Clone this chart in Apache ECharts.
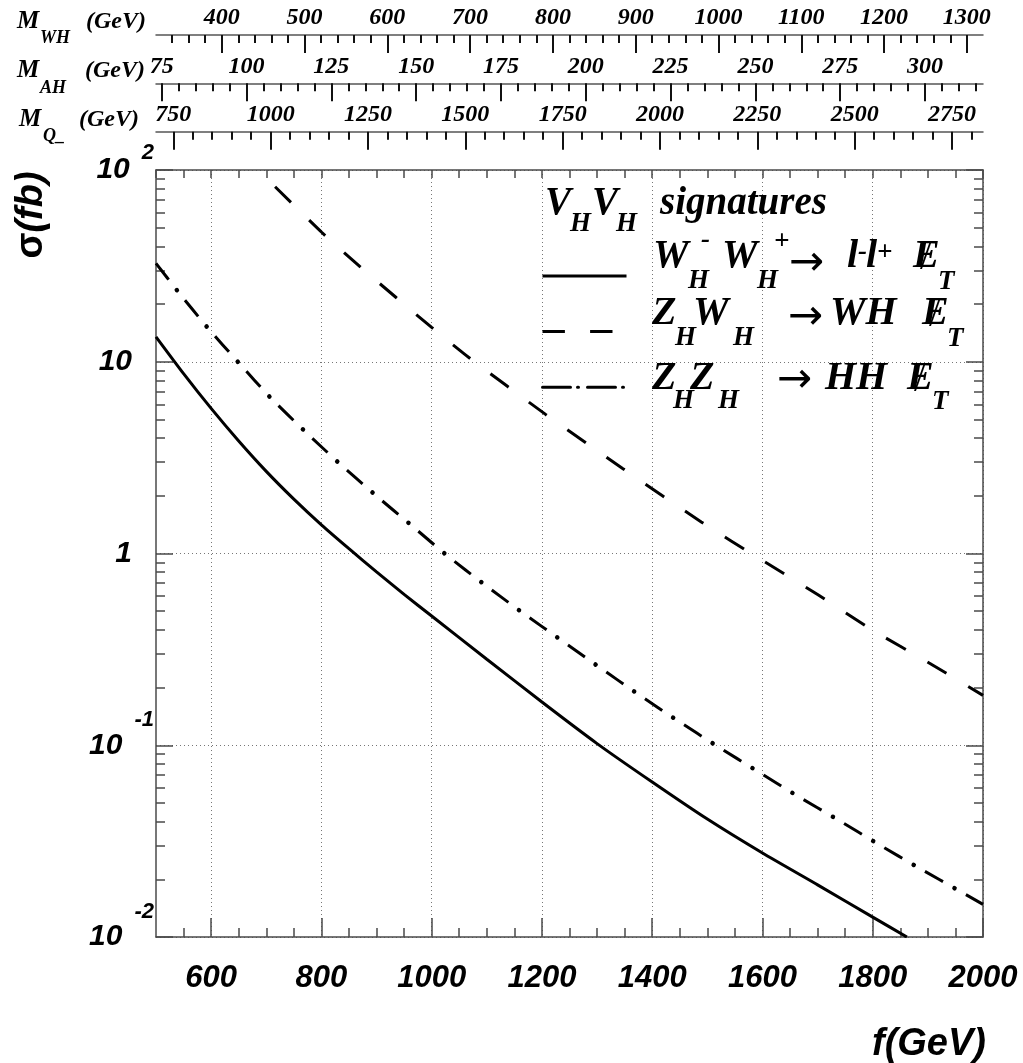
<!DOCTYPE html>
<html>
<head>
<meta charset="utf-8">
<title>V_H V_H signatures</title>
<script src="https://cdn.jsdelivr.net/npm/echarts@6/dist/echarts.min.js"></script>
<style>
  html, body { margin: 0; padding: 0; background: #fff; }
  #chart { width: 1023px; height: 1063px; }
</style>
</head>
<body>
<div id="chart"></div>
<script>
// ---- cross sections (fb) versus the symmetry breaking scale f (GeV) ----
const fWW = [500, 550, 600, 650, 700, 750, 800, 850, 900, 950, 1000, 1100, 1200, 1300, 1400, 1500, 1600, 1700, 1800, 1862];
const sigmaWW = [13.49, 8.67, 5.71, 3.86, 2.68, 1.92, 1.41, 1.059, 0.802, 0.612, 0.472, 0.281, 0.168, 0.102, 0.0643, 0.0412, 0.0274, 0.0187, 0.0127, 0.0100];

const fZW = [716, 801, 870, 935, 1000, 1068, 1206, 1347, 1489, 1599, 1700, 1800, 1900, 2000];
const sigmaZW = [81.8, 47.2, 31.3, 21.7, 15.1, 10.5, 5.33, 2.77, 1.46, 0.924, 0.611, 0.398, 0.271, 0.182];

const fZZ = [500, 539, 594, 650, 708, 769, 832, 896, 961, 1027, 1095, 1164, 1234, 1304, 1374, 1445, 1517, 1590, 1662, 1736, 1810, 1884, 1959, 2000];
const sigmaZZ = [32.6, 23.4, 15.0, 9.88, 6.48, 4.37, 2.96, 2.04, 1.42, 0.981, 0.692, 0.493, 0.355, 0.2555, 0.185, 0.135, 0.0993, 0.0735, 0.0547, 0.041, 0.0305, 0.0229, 0.01726, 0.0148];

// ---- axis ranges and tick labels ----
const fRange = [500, 2000];
const fMajorTicks = [600, 800, 1000, 1200, 1400, 1600, 1800, 2000];
const sigmaRange = [0.01, 100];

const mWHRange = [320.6, 1319.5];
const mWHMajorTicks = [400, 500, 600, 700, 800, 900, 1000, 1100, 1200, 1300];
const mAHRange = [73.3, 317.1];
const mAHMajorTicks = [75, 100, 125, 150, 175, 200, 225, 250, 275, 300];
const mQRange = [705.6, 2829.6];
const mQMajorTicks = [750, 1000, 1250, 1500, 1750, 2000, 2250, 2500, 2750];

// minor tick positions between the labelled ones
function minorSteps(from, to, step, major) {
  const out = [];
  for (let v = from; v <= to + 1e-9; v += step) {
    const r = Math.round(v * 1000) / 1000;
    if (Math.abs(r / major - Math.round(r / major)) > 1e-9) out.push(r);
  }
  return out;
}
const fMinorTicks = minorSteps(550, 1950, 50, 200);
const mWHMinorTicks = minorSteps(340, 1300, 20, 100);
const mAHMinorTicks = minorSteps(80, 315, 5, 25);
const mQMinorTicks = minorSteps(800, 2800, 50, 250);

// log-axis sub-decade ticks, expressed as log10(sigma)
const sigmaMinorLog = [];
for (let d = -2; d <= 1; d++) for (let k = 2; k <= 9; k++) sigmaMinorLog.push(Math.log10(k * Math.pow(10, d)));

const NAME_WW = 'WH- WH+ -> l- l+ missing ET';
const NAME_ZW = 'ZH WH -> WH missing ET';
const NAME_ZZ = 'ZH ZH -> HH missing ET';

// ---- styling ----
const SANS = '"Liberation Sans", Arial, Helvetica, sans-serif';
const SERIF = '"Liberation Serif", "Times New Roman", Times, serif';
const ARROW_FONT = '"DejaVu Sans", "Liberation Sans", sans-serif';
const FRAME = '#4a4a4a';
const GRIDLINE = '#777';

const sansLabel = { fontFamily: SANS, fontWeight: 'bold', fontStyle: 'italic', color: '#000' };
const plainNumber = v => String(Math.round(v * 1000) / 1000);

function frameAxisLine(show) {
  return { show, onZero: false, lineStyle: { color: FRAME, width: 1.5 } };
}

// one of the mass scales drawn above the frame
function massScale(range, ticks, offset, labelled) {
  return {
    type: 'value', gridIndex: 0, position: 'top', offset,
    min: range[0], max: range[1],
    axisLine: { show: labelled, onZero: false, lineStyle: { color: '#555', width: 1.5 } },
    axisTick: { show: true, inside: true, length: labelled ? 18 : 8, customValues: ticks,
                lineStyle: { color: '#111', width: 2 } },
    axisLabel: labelled
      ? { show: true, customValues: ticks, margin: 5, formatter: plainNumber, fontFamily: SERIF,
          fontSize: 24, fontWeight: 'bold', fontStyle: 'italic', color: '#000' }
      : { show: false },
    splitLine: { show: false },
    minorTick: { show: false },
    axisPointer: { show: false }
  };
}

const xAxes = [
  // bottom: f(GeV), labelled every 200
  {
    type: 'value', gridIndex: 0, position: 'bottom', min: fRange[0], max: fRange[1],
    axisLine: frameAxisLine(true),
    axisTick: { show: true, inside: true, length: 19, customValues: fMajorTicks,
                lineStyle: { color: FRAME, width: 1.5 } },
    axisLabel: { show: true, customValues: fMajorTicks, margin: 26, formatter: plainNumber, fontSize: 31, ...sansLabel },
    splitLine: { show: true, lineStyle: { color: GRIDLINE, width: 1, type: [1, 3] } },
    minorTick: { show: false }
  },
  // bottom: intermediate ticks every 50
  {
    type: 'value', gridIndex: 0, position: 'bottom', min: fRange[0], max: fRange[1],
    axisLine: { show: false, onZero: false },
    axisTick: { show: true, inside: true, length: 9, customValues: fMinorTicks,
                lineStyle: { color: FRAME, width: 1.5 } },
    axisLabel: { show: false }, splitLine: { show: false }
  },
  // top edge of the frame
  {
    type: 'value', gridIndex: 0, position: 'top', min: fRange[0], max: fRange[1], interval: 50,
    axisLine: frameAxisLine(true),
    axisTick: { show: true, inside: true, length: 8, lineStyle: { color: FRAME, width: 1.5 } },
    axisLabel: { show: false }, splitLine: { show: false }
  },
  massScale(mQRange, mQMajorTicks, 38.3, true),
  massScale(mQRange, mQMinorTicks, 38.3, false),
  massScale(mAHRange, mAHMajorTicks, 86.7, true),
  massScale(mAHRange, mAHMinorTicks, 86.7, false),
  massScale(mWHRange, mWHMajorTicks, 135, true),
  massScale(mWHRange, mWHMinorTicks, 135, false)
];

const yTok = { fontFamily: SANS, fontWeight: 'bold', fontStyle: 'italic', color: '#000' };
const yLabelRich = {
  b:  { ...yTok, fontSize: 30, lineHeight: 30, verticalAlign: 'middle' },
  p:  { ...yTok, fontSize: 30, lineHeight: 30, verticalAlign: 'middle', padding: [0, 22, 0, 0] },
  sp: { ...yTok, fontSize: 22, verticalAlign: 'top', padding: [0, 0, 34, 12] },
  sn: { ...yTok, fontSize: 22, verticalAlign: 'top', padding: [0, 0, 50, 12] }
};

const yAxes = [
  {
    type: 'log', logBase: 10, gridIndex: 0, position: 'left', min: sigmaRange[0], max: sigmaRange[1],
    axisLine: frameAxisLine(true),
    axisTick: { show: true, inside: true, length: 17, lineStyle: { color: FRAME, width: 1.5 } },
    axisLabel: {
      show: true, margin: 2,
      formatter: v => {
        const e = Math.round(Math.log10(v));
        if (e === 0) return '{p|1}';
        if (e === 1) return '{p|10}';
        return '{b|10}{' + (e > 0 ? 'sp' : 'sn') + '|' + e + '}';
      },
      rich: yLabelRich
    },
    splitLine: { show: true, lineStyle: { color: GRIDLINE, width: 1, type: [1, 3] } },
    minorTick: { show: false }
  },
  {
    type: 'value', gridIndex: 0, position: 'left', min: -2, max: 2,
    axisLine: { show: false, onZero: false },
    axisTick: { show: true, inside: true, length: 9, customValues: sigmaMinorLog,
                lineStyle: { color: FRAME, width: 1.5 } },
    axisLabel: { show: false }, splitLine: { show: false }
  },
  {
    type: 'log', logBase: 10, gridIndex: 0, position: 'right', min: sigmaRange[0], max: sigmaRange[1],
    axisLine: frameAxisLine(true),
    axisTick: { show: true, inside: true, length: 17, lineStyle: { color: FRAME, width: 1.5 } },
    axisLabel: { show: false }, splitLine: { show: false }
  },
  {
    type: 'value', gridIndex: 0, position: 'right', min: -2, max: 2,
    axisLine: { show: false, onZero: false },
    axisTick: { show: true, inside: true, length: 9, customValues: sigmaMinorLog,
                lineStyle: { color: FRAME, width: 1.5 } },
    axisLabel: { show: false }, splitLine: { show: false }
  }
];

function pairs(xs, ys) { return xs.map((x, i) => [x, ys[i]]); }

function curve(name, xs, ys, lineStyle) {
  return {
    type: 'line', name, xAxisIndex: 0, yAxisIndex: 0,
    data: pairs(xs, ys),
    symbol: 'none', showSymbol: false, smooth: 0.2, silent: true,
    lineStyle: Object.assign({ color: '#000', width: 3, cap: 'butt' }, lineStyle),
    z: 5
  };
}

// dash-dot pattern: long dashes, plus round dots centred in the gaps
const DASHDOT_PERIOD = 47;
const DASHDOT_DASH = 20.5;

// ---- free text: axis titles, scale names and legend entries ----
// txt places a string by its left edge and baseline; ctr places it by its vertical middle
function ctr(str, x, midY, size, o) {
  o = o || {};
  return {
    type: 'text', x, y: midY, silent: true, z: 20,
    style: {
      text: str, fill: '#000',
      fontFamily: o.family || SERIF, fontSize: size,
      fontWeight: o.weight || 'bold', fontStyle: o.style || 'italic',
      align: o.align || 'left', verticalAlign: 'middle',
      textAlign: o.align || 'left', textVerticalAlign: 'middle'
    }
  };
}
function txt(str, x, baseline, size, o) {
  return ctr(str, x, baseline - 0.34 * size, size, o);
}
const up = { weight: 'normal', style: 'normal' };
const arrow = { weight: 'normal', style: 'normal', family: ARROW_FONT };

const MAIN = 40, SUB = 27;

const graphics = [
  // scale names at the top left
  txt('M', 17, 30, 25), txt('WH', 40, 44, 18), txt('(GeV)', 86, 30, 24),
  txt('M', 17, 79, 25), txt('AH', 40, 94, 18), txt('(GeV)', 85, 79, 24),
  txt('M', 19, 128, 25), txt('Q_', 43, 142, 18), txt('(GeV)', 79, 128, 24),

  // axis titles
  {
    type: 'text', x: 32, y: 215, rotation: Math.PI / 2, silent: true, z: 20,
    style: {
      text: '{g|σ}{t|(fb)}',
      align: 'center', verticalAlign: 'middle', textAlign: 'center', textVerticalAlign: 'middle',
      rich: {
        g: { fontFamily: SANS, fontWeight: 'bold', fontStyle: 'normal', fontSize: 38, fill: '#000', color: '#000' },
        t: { fontFamily: SANS, fontWeight: 'bold', fontStyle: 'italic', fontSize: 38, fill: '#000', color: '#000' }
      }
    }
  },
  txt('f(GeV)', 986, 1057, 38, { family: SANS, align: 'right' }),

  // legend heading
  txt('V', 545, 217, 39), txt('H', 570, 233, SUB),
  txt('V', 592, 217, 39), txt('H', 616, 233, SUB),
  txt('signatures', 660, 217, 39),

  // W_H^- W_H^+ -> l^- l^+ missing E_T
  txt('W', 653, 270, MAIN), txt('H', 688, 290, SUB), ctr('-', 701, 240, SUB),
  txt('W', 722, 270, MAIN), txt('H', 757, 290, SUB), ctr('+', 774, 242, SUB),
  ctr('\u2192', 789, 264, 42, arrow),
  txt('l', 847, 270, MAIN), ctr('-', 858, 252, SUB),
  txt('l', 866, 270, MAIN), ctr('+', 877, 253, SUB),
  txt('E', 913, 270, MAIN), txt('/', 920, 272, MAIN, up), txt('T', 938, 291, SUB),

  // Z_H W_H -> W H missing E_T
  txt('Z', 652, 327, MAIN), txt('H', 675, 347, SUB),
  txt('W', 693, 327, MAIN), txt('H', 733, 347, SUB),
  ctr('\u2192', 788, 318, 42, arrow),
  txt('WH', 830, 327, MAIN),
  txt('E', 922, 327, MAIN), txt('/', 929, 329, MAIN, up), txt('T', 947, 348, SUB),

  // Z_H Z_H -> H H missing E_T
  txt('Z', 652, 392, MAIN), txt('H', 673, 410, SUB),
  txt('Z', 690, 392, MAIN), txt('H', 718, 410, SUB),
  ctr('\u2192', 777, 381, 42, arrow),
  txt('HH', 825, 392, MAIN),
  txt('E', 907, 392, MAIN), txt('/', 914, 394, MAIN, up), txt('T', 932, 411, SUB)
];

const zzDots = curve('ZH ZH -> HH missing ET (dots)', fZZ, sigmaZZ, {
  type: [0.01, DASHDOT_PERIOD - 0.01], cap: 'round', width: 4.6,
  dashOffset: (DASHDOT_PERIOD - DASHDOT_DASH) / 2
});

const option = {
  animation: false,
  backgroundColor: '#fff',
  grid: { left: 156, top: 170, width: 827, height: 767, containLabel: false, outerBoundsMode: 'none' },
  xAxis: xAxes,
  yAxis: yAxes,
  legend: {
    orient: 'vertical', left: 541, top: 269, padding: 0,
    itemWidth: 84, itemHeight: 14, itemGap: 43,
    selectedMode: false,
    formatter: () => '',
    textStyle: { fontSize: 2 },
    itemStyle: { opacity: 0 },
    lineStyle: { width: 3 },
    data: [
      { name: NAME_WW },
      { name: NAME_ZW },
      { name: NAME_ZZ, lineStyle: { type: [28, 7, 1, 9], cap: 'round', width: 3 } }
    ]
  },
  series: [
    curve(NAME_WW, fWW, sigmaWW, { type: 'solid' }),
    curve(NAME_ZW, fZW, sigmaZW, { type: [22.4, 25.2] }),
    curve(NAME_ZZ, fZZ, sigmaZZ, { type: [DASHDOT_DASH, DASHDOT_PERIOD - DASHDOT_DASH] }),
    zzDots
  ],
  graphic: graphics
};

const chart = echarts.init(document.getElementById('chart'), null, { renderer: 'canvas' });
chart.setOption(option);
</script>
</body>
</html>
